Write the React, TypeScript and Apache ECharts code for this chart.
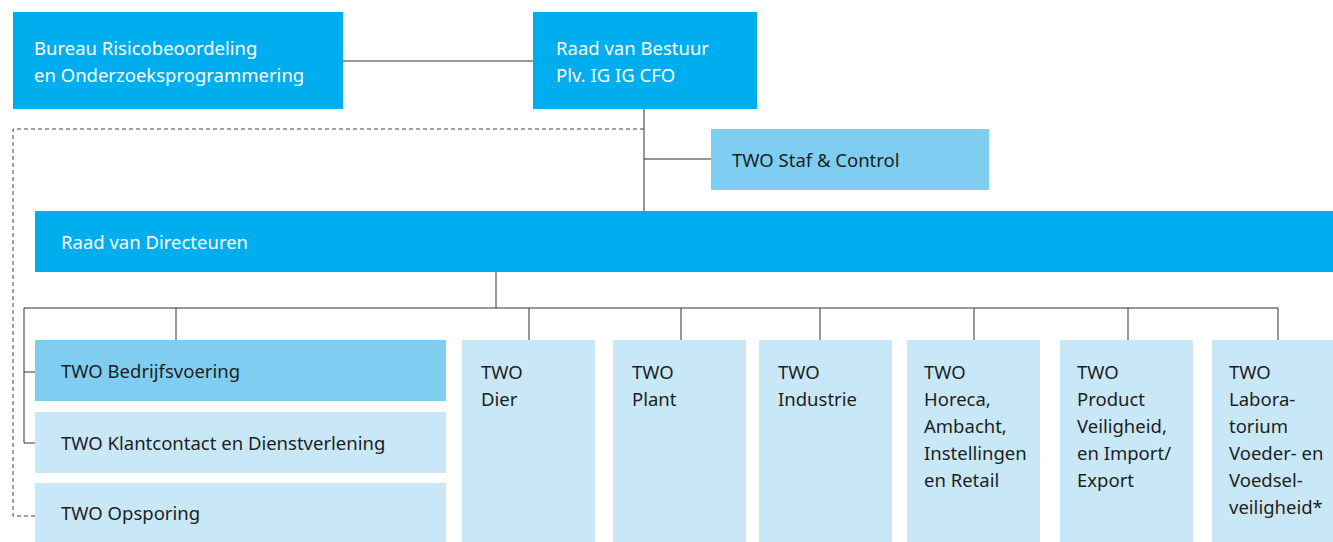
import React, { useEffect, useRef } from "react";
import * as echarts from "echarts";

// Organisation units (text)
const nodeLabels: string[] = [
  "Bureau Risicobeoordeling\nen Onderzoeksprogrammering",
  "Raad van Bestuur\nPlv. IG IG CFO",
  "TWO Staf & Control",
  "Raad van Directeuren",
  "TWO Bedrijfsvoering",
  "TWO Klantcontact en Dienstverlening",
  "TWO Opsporing",
  "TWO\nDier",
  "TWO\nPlant",
  "TWO\nIndustrie",
  "TWO\nHoreca,\nAmbacht,\nInstellingen\nen Retail",
  "TWO\nProduct\nVeiligheid,\nen Import/\nExport",
  "TWO\nLabora-\ntorium\nVoeder- en\nVoedsel-\nveiligheid*",
];

// Unit level: 0 = board, 1 = staff/support, 2 = directorate
const nodeLevel: number[] = [0, 0, 1, 0, 1, 2, 2, 2, 2, 2, 2, 2, 2];

// Box layout in chart units [left, top, right, bottom]
const nodeBoxes: number[][] = [
  [13, 12, 343, 109],
  [533, 12, 757, 109],
  [711, 129, 989, 190],
  [35, 211, 1333, 272],
  [35, 340, 446, 401],
  [35, 412, 446, 473],
  [35, 483, 446, 542],
  [462, 340, 595, 542],
  [613, 340, 746, 542],
  [759, 340, 892, 542],
  [907, 340, 1040, 542],
  [1060, 340, 1193, 542],
  [1212, 340, 1333, 542],
];

// Text anchoring: "middle" = vertically centred, "top" = from box top
const nodeAnchor: string[] = [
  "middle", "middle", "middle", "middle", "middle", "middle", "middle",
  "top", "top", "top", "top", "top", "top",
];
const nodePad: number[] = [21, 23, 21, 26, 26, 26, 26, 19, 19, 19, 17, 17, 17];

// Reporting lines (solid) and functional line (dashed), in chart units
const solidLinks: number[][][] = [
  [[343, 61], [533, 61]],
  [[644, 109], [644, 211]],
  [[644, 159], [711, 159]],
  [[496, 272], [496, 308]],
  [[24, 308], [1278, 308]],
  [[24, 308], [24, 443], [35, 443]],
  [[24, 372], [35, 372]],
  [[176, 308], [176, 340]],
  [[529, 308], [529, 340]],
  [[681, 308], [681, 340]],
  [[820, 308], [820, 340]],
  [[974, 308], [974, 340]],
  [[1128, 308], [1128, 340]],
  [[1278, 308], [1278, 340]],
];
const dashedLinks: number[][][] = [
  [[644, 129], [13, 129], [13, 516], [35, 516]],
];

const levelFill = ["#00AEEF", "#7FCEF2", "#C9E8F7"];
const levelText = ["#FFFFFF", "#1E1E1E", "#1E1E1E"];

export default function App() {
  const ref = useRef<HTMLDivElement>(null);

  useEffect(() => {
    document.body.style.margin = "0";
    if (!ref.current) return;
    const chart = echarts.init(ref.current, undefined, { renderer: "svg" });

    const boxData = nodeBoxes.map((b, i) => [b[0], b[1], b[2], b[3], i]);

    chart.setOption({
      animation: false,
      backgroundColor: "#FFFFFF",
      grid: { left: 0, right: 0, top: 0, bottom: 0 },
      xAxis: { type: "value", min: 0, max: 1333, show: false },
      yAxis: { type: "value", min: 0, max: 542, inverse: true, show: false },
      series: [
        {
          type: "custom",
          coordinateSystem: "cartesian2d",
          clip: false,
          silent: true,
          encode: { x: [0, 2], y: [1, 3] },
          data: boxData,
          renderItem: (params: any, api: any) => {
            const i = api.value(4);
            const p0 = api.coord([api.value(0), api.value(1)]);
            const p1 = api.coord([api.value(2), api.value(3)]);
            const lvl = nodeLevel[i];
            const middle = nodeAnchor[i] === "middle";
            return {
              type: "group",
              children: [
                {
                  type: "rect",
                  shape: { x: p0[0], y: p0[1], width: p1[0] - p0[0], height: p1[1] - p0[1] },
                  style: { fill: levelFill[lvl] },
                },
                {
                  type: "text",
                  x: p0[0] + nodePad[i],
                  y: middle ? (p0[1] + p1[1]) / 2 : p0[1] + 18,
                  style: {
                    text: nodeLabels[i],
                    fill: levelText[lvl],
                    fontFamily: "Noto Sans",
                    fontSize: 18.5,
                    lineHeight: 27,
                    align: "left",
                    verticalAlign: middle ? "middle" : "top",
                  },
                },
              ],
            };
          },
          z: 2,
        },
        {
          type: "lines",
          coordinateSystem: "cartesian2d",
          polyline: true,
          silent: true,
          lineStyle: { color: "#333333", width: 1, opacity: 1 },
          data: solidLinks.map((c) => ({ coords: c })),
          z: 1,
        },
        {
          type: "lines",
          coordinateSystem: "cartesian2d",
          polyline: true,
          silent: true,
          lineStyle: { color: "#444444", width: 1, type: [4, 3], opacity: 1 },
          data: dashedLinks.map((c) => ({ coords: c })),
          z: 1,
        },
      ],
    });

    return () => chart.dispose();
  }, []);

  return <div ref={ref} style={{ width: 1333, height: 542 }} />;
}
